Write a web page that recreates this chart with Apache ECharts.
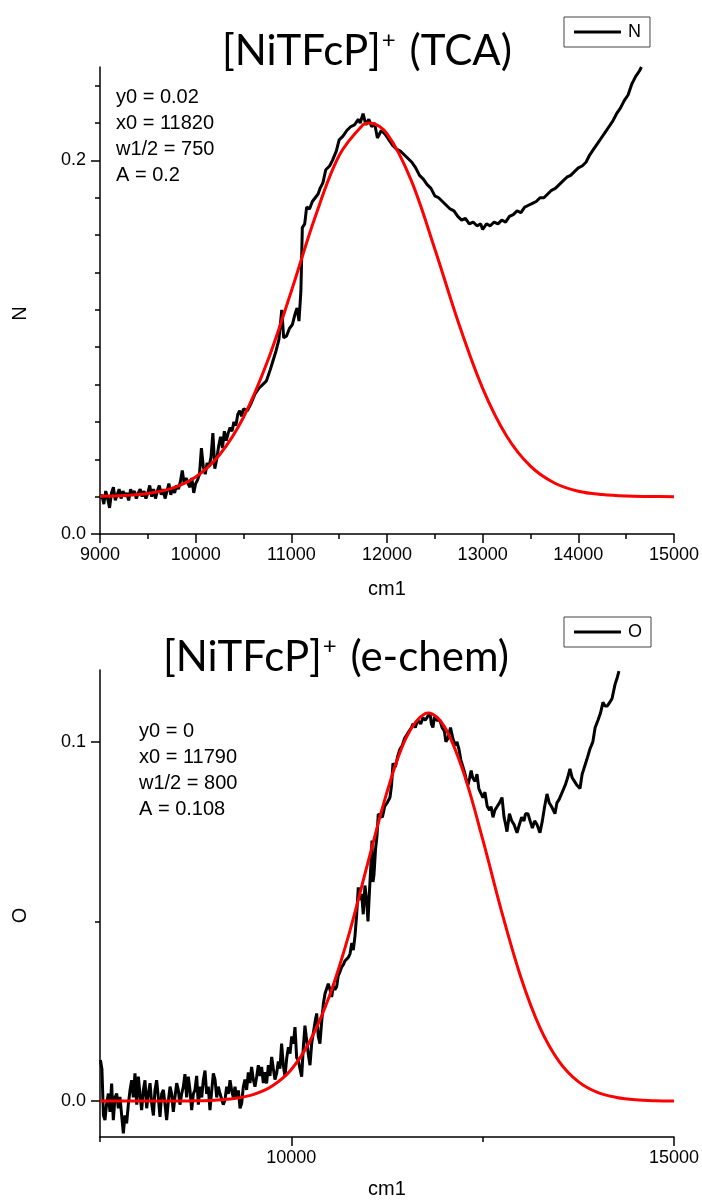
<!DOCTYPE html>
<html>
<head>
<meta charset="utf-8">
<script src="https://cdn.jsdelivr.net/npm/echarts@6/dist/echarts.min.js"></script>
<style>
html,body{margin:0;padding:0;background:#fff;}
#chart{width:702px;height:1203px;}
</style>
</head>
<body>
<div id="chart"></div>
<script>
// ---------- Data ----------
const titleTop = ['[NiTFcP]', '+', ' (TCA)'];
const titleBottom = ['[NiTFcP]', '+', ' (e-chem)'];
const fitTextTop = ['y0 = 0.02', 'x0 = 11820', 'w1/2 = 750', 'A = 0.2'];
const fitTextBottom = ['y0 = 0', 'x0 = 11790', 'w1/2 = 800', 'A = 0.108'];
const xNameTop = 'cm1', yNameTop = 'N';
const xNameBottom = 'cm1', yNameBottom = 'O';

const topXTicks = [9000, 10000, 11000, 12000, 13000, 14000, 15000];
const topYLabels = [0, 0.2];
const topYMinor = [0.02, 0.04, 0.06, 0.08, 0.1, 0.12, 0.14, 0.16, 0.18, 0.22, 0.24];
const bottomXLabels = [10000, 15000];
const bottomXMinor = [7500, 12500];
const bottomYLabels = [0, 0.1];
const bottomYMinor = [0.05];

// Top panel: measured spectrum N
const topSpectrum = [
[9000,0.019],[9020,0.021],[9040,0.016],[9060,0.023],[9080,0.019],[9100,0.014],[9120,0.022],[9140,0.025],
[9160,0.018],[9180,0.021],[9200,0.024],[9220,0.019],[9240,0.023],[9260,0.020],[9280,0.022],[9300,0.018],
[9320,0.024],[9340,0.021],[9360,0.023],[9380,0.019],[9400,0.022],[9420,0.024],[9440,0.020],[9460,0.023],
[9480,0.019],[9500,0.022],[9520,0.026],[9540,0.020],[9560,0.024],[9580,0.019],[9600,0.023],[9620,0.026],
[9640,0.021],[9660,0.024],[9680,0.019],[9700,0.023],[9720,0.027],[9740,0.021],[9760,0.025],[9780,0.022],
[9800,0.026],[9820,0.024],[9840,0.028],[9860,0.034],[9880,0.027],[9900,0.030],[9920,0.027],[9940,0.025],
[9960,0.030],[9980,0.022],[10000,0.027],[10020,0.029],[10040,0.032],[10060,0.046],[10080,0.036],[10100,0.032],
[10120,0.038],[10140,0.036],[10160,0.041],[10180,0.054],[10200,0.035],[10220,0.040],[10240,0.047],[10260,0.052],
[10280,0.046],[10300,0.055],[10320,0.050],[10340,0.054],[10360,0.057],[10380,0.055],[10400,0.060],[10420,0.058],
[10440,0.064],[10460,0.066],[10480,0.063],[10500,0.067],[10540,0.066],[10580,0.070],[10620,0.075],[10660,0.078],
[10700,0.080],[10740,0.082],[10780,0.088],[10810,0.093],[10840,0.098],[10870,0.104],[10900,0.120],[10920,0.105],
[10950,0.106],[10980,0.110],[11010,0.112],[11040,0.118],[11060,0.121],[11080,0.114],[11100,0.130],[11115,0.164],
[11140,0.166],[11160,0.175],[11190,0.174],[11220,0.178],[11250,0.180],[11280,0.182],[11300,0.185],[11330,0.188],
[11360,0.195],[11400,0.197],[11430,0.200],[11470,0.205],[11500,0.211],[11540,0.213],[11580,0.216],[11620,0.218],
[11660,0.219],[11700,0.222],[11720,0.220],[11750,0.225],[11780,0.219],[11810,0.222],[11840,0.218],[11870,0.220],
[11900,0.212],[11940,0.216],[11980,0.214],[12020,0.211],[12060,0.208],[12100,0.206],[12140,0.205],[12180,0.203],
[12220,0.201],[12260,0.199],[12300,0.196],[12340,0.192],[12380,0.190],[12420,0.187],[12460,0.185],[12500,0.181],
[12540,0.180],[12580,0.178],[12620,0.176],[12660,0.174],[12700,0.173],[12740,0.170],[12780,0.168],[12820,0.169],
[12860,0.166],[12900,0.167],[12940,0.165],[12980,0.166],[13000,0.163],[13040,0.166],[13080,0.165],[13120,0.167],
[13160,0.166],[13200,0.168],[13240,0.167],[13280,0.170],[13320,0.171],[13360,0.173],[13400,0.172],[13440,0.175],
[13480,0.176],[13520,0.177],[13560,0.178],[13600,0.180],[13640,0.180],[13680,0.182],[13720,0.184],[13760,0.185],
[13800,0.187],[13840,0.189],[13880,0.191],[13920,0.192],[13960,0.194],[14000,0.196],[14040,0.197],[14080,0.199],
[14120,0.203],[14160,0.206],[14200,0.209],[14240,0.212],[14280,0.215],[14320,0.218],[14360,0.221],[14400,0.225],
[14440,0.228],[14480,0.232],[14520,0.235],[14560,0.241],[14600,0.245],[14640,0.248],[14660,0.250]
];

// Top panel: Gaussian fit curve (red)
const topFit = [
[9000,0.0202],[9250,0.0206],[9500,0.0217],[9750,0.0244],[10000,0.0305],[10250,0.0424],[10500,0.0625],
[10750,0.0923],[11000,0.130],[11250,0.1698],[11500,0.2026],[11750,0.2191],[11820,0.220],[12000,0.2143],
[12250,0.1897],[12500,0.1526],[12750,0.1127],[13000,0.078],[13250,0.0525],[13500,0.0363],[13750,0.0273],
[14000,0.0229],[14250,0.0211],[14500,0.0203],[14750,0.0201],[15000,0.0200]
];

// Bottom panel: measured spectrum O
const bottomSpectrum = [
[7505,0.0114],[7525,0.009],[7545,-0.004],[7565,-0.0053],[7585,-0.001],[7609,0.0021],[7630,-0.003],[7652,0.0049],
[7674,-0.0053],[7696,0.001],[7718,0.0021],[7740,-0.002],[7761,0.0012],[7783,-0.004],[7805,-0.009],[7826,-0.004],
[7848,-0.0062],[7870,-0.001],[7892,0.003],[7914,0.0058],[7935,0.001],[7957,0.0077],[7980,-0.001],[8001,0.0068],
[8022,0.002],[8044,-0.0025],[8066,0.003],[8088,0.0058],[8110,-0.002],[8132,0.0021],[8154,0.005],[8175,-0.0006],
[8198,-0.004],[8218,0.003],[8240,0.0058],[8262,0.001],[8284,-0.0044],[8306,0.002],[8328,0.0031],[8350,-0.001],
[8371,-0.0053],[8393,0.000],[8415,0.004],[8436,0.0021],[8458,-0.003],[8480,0.0012],[8502,0.005],[8523,0.0031],
[8545,-0.001],[8567,0.002],[8589,0.004],[8610,0.0075],[8632,0.001],[8654,0.0068],[8676,0.003],[8698,-0.0025],
[8720,0.002],[8741,0.0031],[8763,0.007],[8785,-0.001],[8807,0.004],[8829,0.001],[8850,0.0058],[8872,0.0085],
[8894,0.002],[8915,0.004],[8937,-0.0025],[8960,0.003],[8981,0.0077],[9003,0.006],[9025,0.001],[9046,0.004],
[9068,0.0021],[9090,0.0005],[9111,-0.001],[9133,0.0003],[9155,0.004],[9177,0.002],[9199,0.0058],[9220,0.003],
[9242,0.001],[9264,0.004],[9286,0.001],[9308,0.003],[9330,-0.002],[9351,-0.0006],[9373,0.004],[9394,0.006],
[9416,0.0031],[9438,0.008],[9460,0.005],[9481,0.0095],[9503,0.006],[9525,0.004],[9547,0.0068],[9569,0.010],
[9590,0.007],[9612,0.0095],[9634,0.005],[9655,0.008],[9677,0.0049],[9700,0.010],[9721,0.007],[9743,0.0123],
[9765,0.009],[9786,0.006],[9808,0.0077],[9830,0.011],[9851,0.009],[9873,0.016],[9895,0.010],[9917,0.0068],
[9940,0.012],[9962,0.015],[9983,0.0132],[10005,0.018],[10026,0.016],[10048,0.0206],[10070,0.012],[10091,0.0114],
[10113,0.009],[10135,0.0068],[10157,0.015],[10178,0.021],[10200,0.0206],[10222,0.013],[10244,0.010],[10266,0.016],
[10288,0.019],[10310,0.022],[10331,0.0244],[10352,0.018],[10374,0.016],[10396,0.022],[10418,0.027],[10440,0.0299],
[10462,0.030],[10483,0.0327],[10505,0.031],[10527,0.029],[10550,0.032],[10570,0.031],[10592,0.0318],[10614,0.035],
[10636,0.036],[10657,0.0373],[10680,0.038],[10700,0.039],[10723,0.0392],[10745,0.040],[10767,0.041],[10790,0.044],
[10810,0.042],[10832,0.046],[10854,0.052],[10875,0.0595],[10897,0.056],[10919,0.0577],[10940,0.052],[10962,0.060],
[10984,0.0558],[11002,0.050],[11020,0.058],[11040,0.066],[11054,0.0725],[11067,0.061],[11080,0.063],[11100,0.070],
[11120,0.074],[11136,0.0799],[11158,0.080],[11190,0.079],[11220,0.082],[11250,0.083],[11289,0.0845],[11310,0.088],
[11328,0.094],[11360,0.093],[11390,0.096],[11420,0.098],[11450,0.099],[11480,0.101],[11511,0.102],[11540,0.103],
[11570,0.104],[11590,0.105],[11620,0.104],[11650,0.106],[11690,0.105],[11720,0.1067],[11750,0.106],[11780,0.107],
[11812,0.108],[11830,0.105],[11850,0.104],[11870,0.107],[11900,0.106],[11942,0.106],[11970,0.104],[12000,0.103],
[12020,0.100],[12047,0.101],[12080,0.104],[12110,0.101],[12140,0.099],[12164,0.100],[12190,0.098],[12215,0.095],
[12243,0.093],[12270,0.091],[12290,0.089],[12309,0.088],[12330,0.090],[12350,0.092],[12370,0.090],[12400,0.089],
[12426,0.091],[12450,0.087],[12470,0.086],[12504,0.0845],[12530,0.086],[12560,0.082],[12590,0.081],[12610,0.082],
[12635,0.079],[12660,0.081],[12690,0.082],[12720,0.083],[12753,0.0845],[12780,0.079],[12800,0.077],[12818,0.075],
[12850,0.080],[12880,0.078],[12910,0.077],[12949,0.0747],[12980,0.077],[13010,0.079],[13040,0.078],[13060,0.080],
[13092,0.080],[13120,0.078],[13150,0.076],[13180,0.078],[13210,0.077],[13249,0.0747],[13280,0.078],[13310,0.082],
[13341,0.0855],[13370,0.083],[13400,0.082],[13445,0.080],[13470,0.083],[13500,0.084],[13540,0.086],[13580,0.088],
[13610,0.090],[13641,0.0925],[13670,0.090],[13700,0.089],[13730,0.088],[13772,0.087],[13800,0.091],[13830,0.093],
[13860,0.095],[13902,0.098],[13940,0.100],[13970,0.104],[14007,0.106],[14040,0.108],[14072,0.111],[14100,0.110],
[14130,0.110],[14160,0.111],[14190,0.112],[14230,0.116],[14260,0.118],[14281,0.1197]
];

// Bottom panel: Gaussian fit curve (red)
const bottomFit = [
[7500,0],[7750,0],[8000,0],[8250,0.00001],[8500,0.00002],[8750,0.00008],[9000,0.00025],[9250,0.0007],
[9500,0.0018],[9750,0.0042],[10000,0.0088],[10250,0.0170],[10500,0.0294],[10750,0.0462],[11000,0.0663],
[11250,0.0860],[11500,0.1011],[11750,0.1079],[11790,0.108],[12000,0.1043],[12250,0.0915],[12500,0.0729],
[12750,0.0526],[13000,0.0344],[13250,0.0204],[13500,0.0110],[13750,0.0054],[14000,0.0024],[14250,0.001],
[14500,0.00035],[14750,0.0001],[15000,0.00003]
];

// ---------- Chart ----------
const FONT = '"Liberation Sans", Arial, sans-serif';
const TFONT = 'Lato, "Open Sans", sans-serif';
const chart = echarts.init(document.getElementById('chart'), null, {renderer: 'canvas'});

const axisLine = {show: true, onZero: false, lineStyle: {color: '#000', width: 1.5}};
const label = (extra) => Object.assign({color: '#000', fontSize: 18, fontFamily: FONT, formatter: v => String(v)}, extra);
const fmt1 = v => Number(v).toFixed(1);

function titleOf(parts, left, top) {
  return {
    text: '{m|' + parts[0] + '}{s|' + parts[1] + '}{m|' + parts[2] + '}',
    left: left, top: top, padding: 0,
    textStyle: {
      fontWeight: 'normal',
      rich: {
        m: {fontFamily: TFONT, fontSize: 42, fontWeight: 'normal', color: '#000', lineHeight: 50, verticalAlign: 'bottom'},
        s: {fontFamily: TFONT, fontSize: 24, fontWeight: 'normal', color: '#000', lineHeight: 50, verticalAlign: 'bottom', padding: [0, 3, 20, 1]}
      }
    }
  };
}

function legendOf(name, top) {
  return {
    data: [name], left: 564, top: top, orient: 'horizontal',
    icon: 'rect', itemWidth: 47, itemHeight: 3, itemGap: 0,
    padding: [6, 9, 6, 10],
    borderColor: '#444', borderWidth: 1, borderRadius: 0,
    backgroundColor: '#fff',
    textStyle: {fontFamily: FONT, fontSize: 18, color: '#000', padding: [0, 0, 0, 2]},
    selectedMode: false
  };
}

const option = {
  backgroundColor: '#fff',
  animation: false,
  title: [titleOf(titleTop, 222, 22), titleOf(titleBottom, 163, 628)],
  legend: [legendOf(yNameTop, 17), legendOf(yNameBottom, 617)],
  grid: [
    {left: 100, top: 67, width: 574, height: 467},
    {left: 100, top: 670, width: 574, height: 467}
  ],
  xAxis: [
    {
      gridIndex: 0, type: 'value', min: 9000, max: 15000, interval: 1000,
      name: xNameTop, nameLocation: 'middle', nameGap: 45,
      nameTextStyle: {fontFamily: FONT, fontSize: 20, color: '#000'},
      axisLine: axisLine,
      axisTick: {show: true, length: 9, lineStyle: {color: '#000', width: 1.5}},
      minorTick: {show: true, splitNumber: 2, length: 5, lineStyle: {color: '#000', width: 1.5}},
      axisLabel: label({margin: 12}),
      splitLine: {show: false}, minorSplitLine: {show: false}
    },
    {
      gridIndex: 1, type: 'value', min: 7500, max: 15000,
      name: xNameBottom, nameLocation: 'middle', nameGap: 42,
      nameTextStyle: {fontFamily: FONT, fontSize: 20, color: '#000'},
      axisLine: axisLine,
      axisTick: {show: true, length: 9, customValues: bottomXLabels, lineStyle: {color: '#000', width: 1.5}},
      axisLabel: label({margin: 12, customValues: bottomXLabels}),
      splitLine: {show: false}
    },
    {
      gridIndex: 1, type: 'value', min: 7500, max: 15000, position: 'bottom',
      axisLine: {show: false, onZero: false},
      axisTick: {show: true, length: 5, customValues: bottomXMinor, lineStyle: {color: '#000', width: 1.5}},
      axisLabel: {show: false},
      splitLine: {show: false}
    }
  ],
  yAxis: [
    {
      gridIndex: 0, type: 'value', min: 0, max: 0.25, position: 'left',
      name: yNameTop, nameLocation: 'middle', nameGap: 70, nameRotate: 90,
      nameTextStyle: {fontFamily: FONT, fontSize: 20, color: '#000', padding: [0, 26, 0, 0]},
      axisLine: axisLine,
      axisTick: {show: true, length: 9, customValues: topYLabels, lineStyle: {color: '#000', width: 1.5}},
      axisLabel: label({margin: 14, customValues: topYLabels, formatter: fmt1}),
      splitLine: {show: false}
    },
    {
      gridIndex: 0, type: 'value', min: 0, max: 0.25, position: 'left',
      axisLine: {show: false, onZero: false},
      axisTick: {show: true, length: 5, customValues: topYMinor, lineStyle: {color: '#000', width: 1.5}},
      axisLabel: {show: false},
      splitLine: {show: false}
    },
    {
      gridIndex: 1, type: 'value', min: -0.01, max: 0.12, position: 'left',
      name: yNameBottom, nameLocation: 'middle', nameGap: 70, nameRotate: 90,
      nameTextStyle: {fontFamily: FONT, fontSize: 20, color: '#000', padding: [0, 24, 0, 0]},
      axisLine: axisLine,
      axisTick: {show: true, length: 9, customValues: bottomYLabels, lineStyle: {color: '#000', width: 1.5}},
      axisLabel: label({margin: 14, customValues: bottomYLabels, formatter: fmt1}),
      splitLine: {show: false}
    },
    {
      gridIndex: 1, type: 'value', min: -0.01, max: 0.12, position: 'left',
      axisLine: {show: false, onZero: false},
      axisTick: {show: true, length: 5, customValues: bottomYMinor, lineStyle: {color: '#000', width: 1.5}},
      axisLabel: {show: false},
      splitLine: {show: false}
    }
  ],
  graphic: [
    {type: 'text', left: 116, top: 84, style: {text: fitTextTop.join('\n'), fontFamily: FONT, fontSize: 20, lineHeight: 26, fill: '#000'}},
    {type: 'text', left: 139, top: 718, style: {text: fitTextBottom.join('\n'), fontFamily: FONT, fontSize: 20, lineHeight: 26, fill: '#000'}}
  ],
  series: [
    {name: yNameTop, type: 'line', xAxisIndex: 0, yAxisIndex: 0, data: topSpectrum, symbol: 'none',
     lineStyle: {color: '#000', width: 3}, itemStyle: {color: '#000'}, clip: true, z: 2},
    {name: 'Fit N', type: 'line', xAxisIndex: 0, yAxisIndex: 0, data: topFit, symbol: 'none', smooth: 0.35,
     lineStyle: {color: '#ff0000', width: 3}, itemStyle: {color: '#ff0000'}, clip: true, z: 3},
    {name: yNameBottom, type: 'line', xAxisIndex: 1, yAxisIndex: 2, data: bottomSpectrum, symbol: 'none',
     lineStyle: {color: '#000', width: 3}, itemStyle: {color: '#000'}, clip: true, z: 2},
    {name: 'Fit O', type: 'line', xAxisIndex: 1, yAxisIndex: 2, data: bottomFit, symbol: 'none', smooth: 0.35,
     lineStyle: {color: '#ff0000', width: 3}, itemStyle: {color: '#ff0000'}, clip: true, z: 3}
  ]
};
chart.setOption(option);
</script>
</body>
</html>
